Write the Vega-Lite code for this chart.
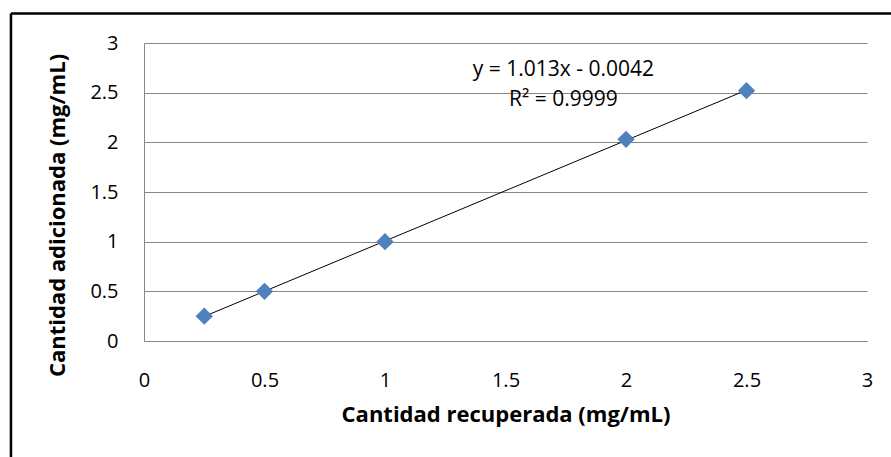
{
  "$schema": "https://vega.github.io/schema/vega-lite/v6.json",
  "width": 723,
  "height": 298,
  "autosize": {"type": "none"},
  "padding": {"left": 144, "top": 43, "right": 24, "bottom": 116},
  "background": "white",
  "config": {
    "view": {"stroke": null},
    "font": "Open Sans",
    "axis": {
      "labelFont": "Open Sans",
      "titleFont": "Open Sans",
      "labelFontSize": 20,
      "titleFontSize": 22,
      "labelColor": "#000000",
      "titleColor": "#000000",
      "domainColor": "#868686",
      "gridColor": "#868686",
      "ticks": false,
      "labelFlush": false,
      "labelOverlap": false,
      "format": "~g"
    }
  },
  "data": {
    "values": [
      {"recuperada": 0.25, "adicionada": 0.25},
      {"recuperada": 0.5, "adicionada": 0.5},
      {"recuperada": 1.0, "adicionada": 1.0},
      {"recuperada": 2.0, "adicionada": 2.03},
      {"recuperada": 2.5, "adicionada": 2.52}
    ]
  },
  "layer": [
    {
      "data": {"values": [{}]},
      "mark": {"type": "rule", "color": "#000000", "strokeWidth": 2.5},
      "encoding": {
        "x": {"datum": -0.552, "type": "quantitative"},
        "y": {"datum": 3.297, "type": "quantitative"},
        "y2": {"datum": -1.3}
      }
    },
    {
      "data": {"values": [{}]},
      "mark": {"type": "rule", "color": "#000000", "strokeWidth": 2.5},
      "encoding": {
        "y": {"datum": 3.297, "type": "quantitative"},
        "x": {"datum": -0.552, "type": "quantitative"},
        "x2": {"datum": 3.2}
      }
    },
    {
      "transform": [{"regression": "adicionada", "on": "recuperada", "method": "linear"}],
      "mark": {"type": "line", "color": "#000000", "strokeWidth": 1},
      "encoding": {
        "x": {"field": "recuperada", "type": "quantitative"},
        "y": {"field": "adicionada", "type": "quantitative"}
      }
    },
    {
      "mark": {"type": "point", "shape": "diamond", "filled": true, "size": 300, "color": "#4F81BD", "opacity": 1},
      "encoding": {
        "x": {
          "field": "recuperada",
          "type": "quantitative",
          "scale": {"domain": [0, 3], "nice": false, "zero": true},
          "axis": {
            "title": "Cantidad recuperada (mg/mL)",
            "values": [0, 0.5, 1, 1.5, 2, 2.5, 3],
            "format": "~g",
            "grid": false,
            "labelPadding": 29,
            "titlePadding": 14,
            "titleFontWeight": "bold"
          }
        },
        "y": {
          "field": "adicionada",
          "type": "quantitative",
          "scale": {"domain": [0, 3], "nice": false},
          "axis": {
            "title": "Cantidad adicionada (mg/mL)",
            "values": [0, 0.5, 1, 1.5, 2, 2.5, 3],
            "format": "~g",
            "grid": true,
            "labelPadding": 26,
            "titlePadding": 20,
            "titleY": 172,
            "titleFontWeight": "bold"
          }
        }
      }
    },
    {
      "data": {"values": [{}]},
      "mark": {"type": "text", "font": "Open Sans", "fontSize": 21, "fontWeight": 400, "color": "#000000", "align": "center", "baseline": "middle"},
      "encoding": {
        "x": {"datum": 1.74, "type": "quantitative"},
        "y": {"datum": 2.73, "type": "quantitative"},
        "text": {"value": "y = 1.013x - 0.0042"}
      }
    },
    {
      "data": {"values": [{}]},
      "mark": {"type": "text", "font": "Open Sans", "fontSize": 21, "fontWeight": 400, "color": "#000000", "align": "center", "baseline": "middle"},
      "encoding": {
        "x": {"datum": 1.74, "type": "quantitative"},
        "y": {"datum": 2.43, "type": "quantitative"},
        "text": {"value": "R² = 0.9999"}
      }
    }
  ]
}
